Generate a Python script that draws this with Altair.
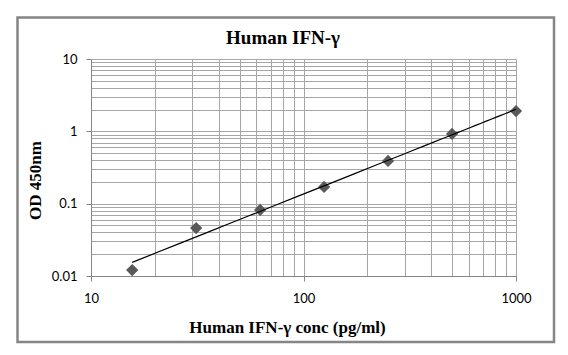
import altair as alt
import pandas as pd

conc = [15.625, 31.25, 62.5, 125, 250, 500, 1000]
od = [0.0121, 0.046, 0.082, 0.17, 0.39, 0.92, 1.91]

chart_title = ["Human IFN-γ"]
x_title = "Human IFN-γ conc (pg/ml)"
y_title = "OD 450nm"

x_major = [10, 100, 1000]
y_major = [0.01, 0.1, 1, 10]
x_grid = [m * d for d in [10, 100] for m in range(1, 10)] + [1000]
y_grid = [m * d for d in [0.01, 0.1, 1] for m in range(1, 10)] + [10]

df = pd.DataFrame({"conc": conc, "od": od})

PL, PT = 91, 59
W, H = 425, 217

serif = "Liberation Serif"
sans = "Lato"

xmaj_test = " || ".join(f"datum.value == {v}" for v in x_major)
ymaj_test = " || ".join(f"datum.value == {v}" for v in y_major)

x_enc = alt.X(
    "conc:Q",
    scale=alt.Scale(type="log", domain=[10, 1000], nice=False),
    axis=alt.Axis(
        values=x_grid,
        labelExpr=f"({xmaj_test}) ? datum.value : ''",
        tickOpacity={"condition": {"test": xmaj_test, "value": 1}, "value": 0},
        tickSize=5,
        tickColor="#868686",
        domainColor="#868686",
        gridColor="#a6a6a6",
        labelFont=sans,
        labelFontSize=13,
        labelColor="#000000",
        labelPadding=11,
        title=x_title,
        titleFont=serif,
        titleFontSize=17,
        titleFontWeight="bold",
        titleColor="#000000",
        titleX=196,
        titleY=51,
        titleBaseline="middle",
        labelFlush=False,
        labelOverlap=False,
    ),
)
y_enc = alt.Y(
    "od:Q",
    scale=alt.Scale(type="log", domain=[0.01, 10], nice=False),
    axis=alt.Axis(
        values=y_grid,
        labelExpr=f"({ymaj_test}) ? datum.value : ''",
        tickOpacity={"condition": {"test": ymaj_test, "value": 1}, "value": 0},
        tickSize=5,
        tickColor="#868686",
        domainColor="#868686",
        gridColor="#a6a6a6",
        labelFont=sans,
        labelFontSize=13,
        labelColor="#000000",
        labelPadding=9,
        title=y_title,
        titleFont=serif,
        titleFontSize=17,
        titleFontWeight="bold",
        titleColor="#000000",
        titleX=-56,
        titleY=121,
        titleAngle=-90,
        titleAlign="center",
        titleBaseline="middle",
        labelFlush=False,
        labelOverlap=False,
    ),
)

base = alt.Chart(df)

frame = alt.Chart(pd.DataFrame({"k": [0]})).mark_rect(
    fill=None, stroke="#858585", strokeWidth=2.5, clip=False
).encode(
    x=alt.value(17.5 - PL),
    x2=alt.value(554 - PL),
    y=alt.value(17.5 - PT),
    y2=alt.value(342 - PT),
)

title_mark = alt.Chart(pd.DataFrame({"t": chart_title})).mark_text(
    font=serif, fontSize=19, fontWeight="bold", color="#000000",
    align="center", baseline="middle", clip=False
).encode(
    text="t:N",
    x=alt.value(283 - PL),
    y=alt.value(38 - PT),
)

points = base.mark_point(
    shape="diamond", filled=True, color="#595959", size=150, opacity=1
).encode(x=x_enc, y=y_enc)

trend = base.transform_regression(
    "conc", "od", method="pow", extent=[15.625, 1000]
).mark_line(color="#000000", strokeWidth=1.2).encode(
    x=alt.X("conc:Q"), y=alt.Y("od:Q")
)

chart = alt.layer(points, trend, frame, title_mark).properties(
    width=W,
    height=H,
    autosize=alt.AutoSizeParams(type="none"),
    padding={"left": PL, "top": PT, "right": 568 - PL - W, "bottom": 355 - PT - H},
    background="#ffffff",
).configure_view(stroke=None)

chart.save("out.html", embed_options={"renderer": "svg", "actions": False})
